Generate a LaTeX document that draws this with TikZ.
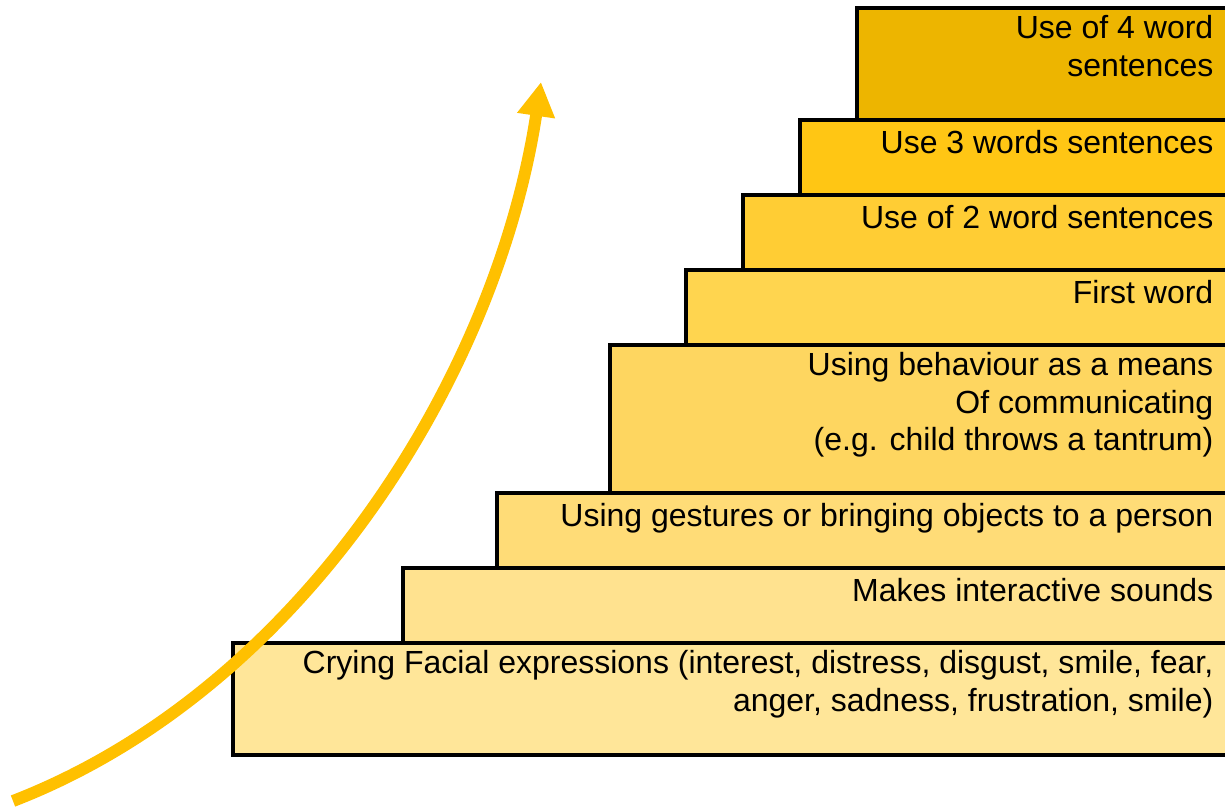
\documentclass[tikz,border=0pt]{standalone}
\usepackage{fontspec}
\setmainfont{Liberation Sans}
\usetikzlibrary{arrows.meta}
% step fills, lightest at the bottom
\definecolor{lvA}{HTML}{FFE699}
\definecolor{lvB}{HTML}{FFE28F}
\definecolor{lvC}{HTML}{FFDC77}
\definecolor{lvD}{HTML}{FED660}
\definecolor{lvE}{HTML}{FFD54F}
\definecolor{lvF}{HTML}{FFCD34}
\definecolor{lvG}{HTML}{FFC614}
\definecolor{lvH}{HTML}{EDB500}
\definecolor{arrowgold}{HTML}{FFC000}
\begin{document}
\begin{tikzpicture}[x=0.01cm,y=-0.01cm,
  stepbox/.style={draw=black, line width=0.9pt},
  steptext/.style={anchor=north east, inner sep=0pt, align=right,
    font=\fontsize{9.1}{10.6}\selectfont, execute at begin node=\strut},
  rise/.style={draw=arrowgold, line width=3.4pt,
    -{Triangle[length=3.4mm,width=3.6mm]}}]
\useasboundingbox (0,0) rectangle (1225,809);

% the staircase, each step running off the right edge
\begin{scope}
  \clip (0,0) rectangle (1225,809);
  \path[stepbox, fill=lvA] (233,643) rectangle (1240,755);
  \path[stepbox, fill=lvB] (403,568) rectangle (1240,643);
  \path[stepbox, fill=lvC] (497,493) rectangle (1240,568);
  \path[stepbox, fill=lvD] (610,345) rectangle (1240,493);
  \path[stepbox, fill=lvE] (686,270) rectangle (1240,345);
  \path[stepbox, fill=lvF] (743,195) rectangle (1240,270);
  \path[stepbox, fill=lvG] (800,120) rectangle (1240,195);
  \path[stepbox, fill=lvH] (857,8) rectangle (1240,120);
\end{scope}

% step labels
\node[steptext] (s1) at (1214,650) {Crying Facial expressions (interest, distress, disgust, smile, fear,\\anger, sadness, frustration, smile)};
\node[steptext] (s2) at (1214,575) {Makes interactive sounds};
\node[steptext] (s3) at (1214,500) {Using gestures or bringing objects to a person};
\node[steptext] (s4) at (1214,352) {Using behaviour as a means\\Of communicating\\(e.g. child throws a tantrum)};
\node[steptext] (s5) at (1214,277) {First word};
\node[steptext] (s6) at (1214,202) {Use of 2 word sentences};
\node[steptext] (s7) at (1214,127) {Use 3 words sentences};
\node[steptext] (s8) at (1214,15) {Use of 4 word\\sentences};

% rising arrow
\coordinate (tail) at (13,801);
\coordinate (tip) at (541,82);
\draw[rise] (tail) .. controls (300,690) and (495,380) .. (536,116) -- (tip);
\end{tikzpicture}
\end{document}
